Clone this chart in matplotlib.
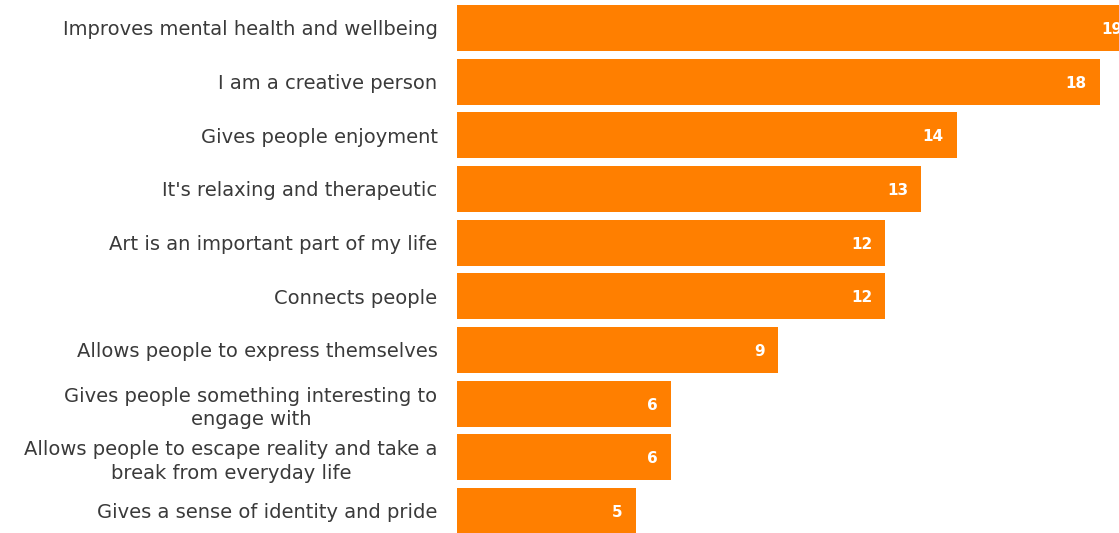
import matplotlib.pyplot as plt

# datos
categorias = ['Improves mental health and wellbeing',
              'I am a creative person',
              'Gives people enjoyment',
              "It's relaxing and therapeutic",
              'Art is an important part of my life',
              'Connects people',
              'Allows people to express themselves',
              'Gives people something interesting to\nengage with',
              'Allows people to escape reality and take a\nbreak from everyday life',
              'Gives a sense of identity and pride']
valores = [19, 18, 14, 13, 12, 12, 9, 6, 6, 5]

naranja = '#FF7F00'

fig = plt.figure(figsize=(11.19, 5.33), dpi=100)
ax = fig.add_axes([457 / 1119, 0, 662 / 1119, 1])

y = list(range(len(valores)))
ax.barh(y, valores, height=0.86, color=naranja)

for i, v in enumerate(valores):
    ax.text(v - 0.37, i + 0.03, str(v), ha='right', va='center', color='white',
            fontsize=11, fontweight='bold', family='DejaVu Sans')

ax.set_xlim(0, 18.54)
ax.set_ylim(9.41, -0.52)
ax.set_yticks(y)
ax.set_yticklabels(categorias, fontsize=14, color='#3a3a3a',
                   multialignment='center', linespacing=1.3)
ax.tick_params(axis='y', length=0, pad=14)
ax.set_xticks([])
for s in ax.spines.values():
    s.set_visible(False)

plt.savefig('out.png', dpi=100)
